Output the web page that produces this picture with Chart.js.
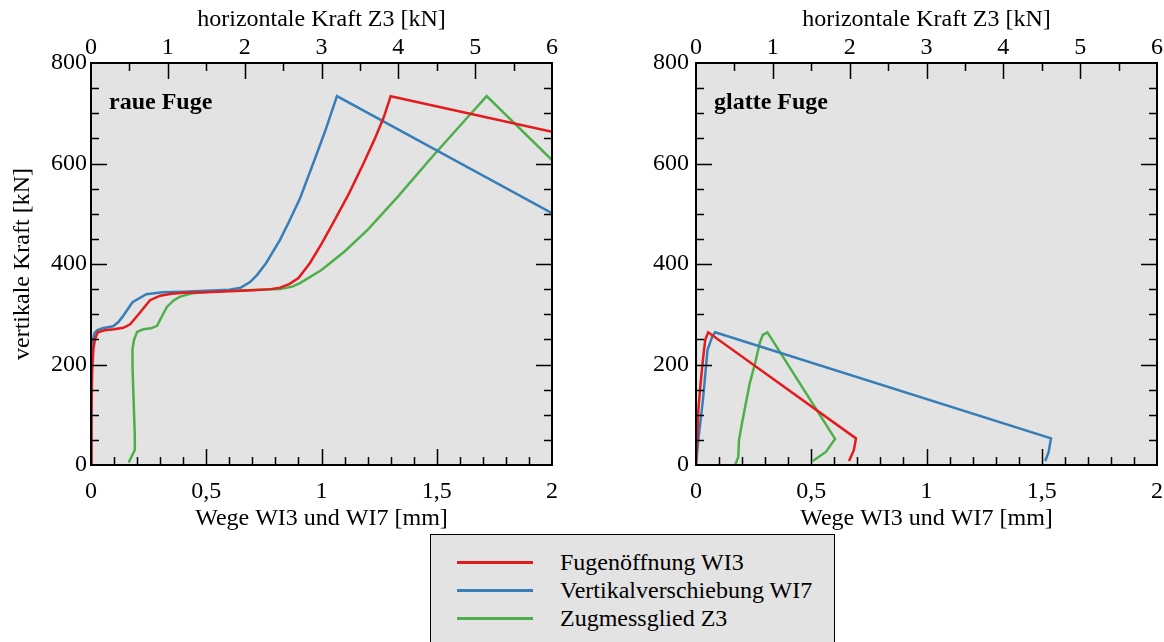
<!DOCTYPE html>
<html><head><meta charset="utf-8">
<script src="https://cdn.jsdelivr.net/npm/chart.js@4"></script>
<style>
body{margin:0;background:#fff;width:1164px;height:642px;overflow:hidden;position:relative;font-family:"Liberation Serif","Times New Roman",serif;}
canvas{position:absolute;top:0;}
#c1{left:0;}
#c2{left:600px;}
#legend{position:absolute;left:430px;top:534px;width:405px;height:120px;background:#e3e3e3;border:1.5px solid #000;box-sizing:border-box;}
.sw{position:absolute;left:26px;width:76px;height:3px;}
.lt{position:absolute;left:129px;font-size:24px;height:28px;line-height:28px;white-space:nowrap;color:#000;}
</style></head>
<body>
<canvas id="c1" width="580" height="540"></canvas>
<canvas id="c2" width="564" height="540"></canvas>
<div id="legend"></div>
<script>
// ---------- data ----------
const seriesNames = ['Fugenöffnung WI3', 'Vertikalverschiebung WI7', 'Zugmessglied Z3'];
const seriesColors = ['#e41a1c', '#377eb8', '#4daf4a'];
const panelLabels = ['raue Fuge', 'glatte Fuge'];
const xTicksMm = [0, 0.5, 1, 1.5, 2];
const xTicksKn = [0, 1, 2, 3, 4, 5, 6];
const yTicksKn = [0, 200, 400, 600, 800];

// raue Fuge
const raueWI3_mm = [0, 0.002, 0.005, 0.01, 0.018, 0.03, 0.06, 0.1, 0.14, 0.17, 0.21, 0.256, 0.30, 0.35, 0.4, 0.5, 0.6, 0.7, 0.78, 0.82, 0.86, 0.9, 0.95, 1.0, 1.06, 1.12, 1.18, 1.23, 1.27, 1.30, 2.0];
const raueWI3_F  = [0, 100, 190, 230, 252, 264, 268, 270, 273, 280, 302, 328, 337, 341, 343, 344, 346, 348, 350, 353, 360, 372, 402, 440, 490, 541, 598, 648, 692, 734, 663];
const raueWI7_mm = [0, 0.002, 0.005, 0.008, 0.015, 0.026, 0.05, 0.096, 0.12, 0.14, 0.18, 0.24, 0.31, 0.4, 0.5, 0.6, 0.65, 0.69, 0.72, 0.76, 0.82, 0.86, 0.907, 0.98, 1.02, 1.067, 2.0];
const raueWI7_F  = [0, 120, 210, 249, 262, 268, 272, 276, 285, 297, 324, 340, 344, 345, 347, 349, 353, 364, 378, 402, 448, 485, 531, 620, 670, 734, 501];
const raueZ3_kN  = [0.49, 0.57, 0.57, 0.55, 0.54, 0.54, 0.56, 0.6, 0.68, 0.78, 0.86, 0.92, 0.99, 1.08, 1.16, 1.33, 1.59, 2.0, 2.46, 2.62, 2.72, 3.0, 3.3, 3.6, 4.0, 4.45, 4.89, 5.15, 6.0];
const raueZ3_F   = [5, 30, 60, 149, 199, 230, 249, 265, 270, 272, 277, 295, 315, 328, 335, 342, 346, 348, 350, 355, 362, 388, 425, 468, 535, 615, 690, 734, 607];

// glatte Fuge
const glattWI3_mm = [0, 0.005, 0.01, 0.02, 0.03, 0.04, 0.053, 0.694, 0.685, 0.664];
const glattWI3_F  = [0, 50, 109, 163, 209, 249, 264, 53, 30, 8];
const glattWI7_mm = [0, 0.01, 0.03, 0.05, 0.07, 0.083, 1.54, 1.53, 1.515];
const glattWI7_F  = [0, 50, 129, 229, 255, 264, 53, 26, 8];
const glattZ3_kN  = [0.51, 0.55, 0.56, 0.6, 0.64, 0.7, 0.77, 0.83, 0.87, 0.93, 1.81, 1.69, 1.52];
const glattZ3_F   = [0, 16, 50, 84, 116, 163, 203, 243, 259, 264, 52, 26, 8];

// ---------- helpers ----------
const FONT = '"Liberation Serif", "Times New Roman", serif';
const tickFont = {family: FONT, size: 24};
const titleFont = {family: FONT, size: 24};
const pts = (xs, ys) => xs.map((x, i) => ({x: x, y: ys[i]}));
const fmt = v => String(v).replace('.', ',');

const framePlugin = {
  id: 'frame',
  beforeDatasetsDraw(chart) {
    const a = chart.chartArea, ctx = chart.ctx;
    ctx.save();
    ctx.fillStyle = '#e3e3e3';
    ctx.fillRect(a.left, a.top, a.right - a.left, a.bottom - a.top);
    ctx.restore();
  },
  afterDatasetsDraw(chart, args, opts) {
    const a = chart.chartArea, ctx = chart.ctx;
    const sx = chart.scales.x, sx2 = chart.scales.x2, sy = chart.scales.y;
    ctx.save();
    ctx.strokeStyle = '#000';
    ctx.lineWidth = 1.5;
    ctx.beginPath();
    for (let i = 1; i < 20; i++) {
      const v = i / 10, px = Math.round(sx.getPixelForValue(v)) + 0.5;
      const len = (i % 5 === 0) ? 16 : 8;
      ctx.moveTo(px, a.bottom); ctx.lineTo(px, a.bottom - len);
    }
    for (let i = 1; i < 12; i++) {
      const v = i / 2, px = Math.round(sx2.getPixelForValue(v)) + 0.5;
      const len = (i % 2 === 0) ? 16 : 8;
      ctx.moveTo(px, a.top); ctx.lineTo(px, a.top + len);
    }
    for (let i = 1; i < 16; i++) {
      const v = i * 50, py = Math.round(sy.getPixelForValue(v)) + 0.5;
      const len = (i % 4 === 0) ? 16 : 8;
      ctx.moveTo(a.left, py); ctx.lineTo(a.left + len, py);
      ctx.moveTo(a.right, py); ctx.lineTo(a.right - len, py);
    }
    ctx.stroke();
    ctx.lineWidth = 2;
    ctx.strokeRect(a.left, a.top, a.right - a.left, a.bottom - a.top);
    if (opts.label) {
      ctx.fillStyle = '#000';
      ctx.font = 'bold 24px ' + FONT;
      ctx.textBaseline = 'middle';
      ctx.textAlign = 'left';
      ctx.fillText(opts.label, a.left + 18, a.top + 40);
    }
    ctx.restore();
  }
};

function buildConfig(data, p) {
  return {
    type: 'line',
    data: {
      datasets: [
        {label: seriesNames[0], data: pts(data[0], data[1]), borderColor: seriesColors[0], xAxisID: 'x', yAxisID: 'y'},
        {label: seriesNames[1], data: pts(data[2], data[3]), borderColor: seriesColors[1], xAxisID: 'x', yAxisID: 'y'},
        {label: seriesNames[2], data: pts(data[4], data[5]), borderColor: seriesColors[2], xAxisID: 'x2', yAxisID: 'y'}
      ]
    },
    options: {
      responsive: false, animation: false, devicePixelRatio: 1,
      layout: {padding: {left: 0, top: 0, right: p.padRight, bottom: 0}},
      elements: {point: {radius: 0, hoverRadius: 0}, line: {tension: 0, borderWidth: 2.5, fill: false}},
      plugins: {legend: {display: false}, tooltip: {enabled: false}, frame: {label: p.label}},
      scales: {
        x: {
          type: 'linear', position: 'bottom', min: 0, max: 2,
          afterFit: s => { s.height = 75; s.paddingLeft = 0; s.paddingRight = 0; },
          afterBuildTicks: s => { s.ticks = xTicksMm.map(v => ({value: v})); },
          grid: {display: false, drawTicks: false}, border: {display: false},
          ticks: {padding: 12, color: '#000', font: tickFont, maxRotation: 0, autoSkip: false, callback: v => fmt(v)},
          title: {display: true, text: 'Wege WI3 und WI7 [mm]', color: '#000', font: titleFont, padding: {top: 0, bottom: 7}}
        },
        x2: {
          type: 'linear', position: 'top', min: 0, max: 6,
          afterFit: s => { s.height = 63; s.paddingLeft = 0; s.paddingRight = 0; },
          afterBuildTicks: s => { s.ticks = xTicksKn.map(v => ({value: v})); },
          grid: {display: false, drawTicks: false}, border: {display: false},
          ticks: {padding: 1, color: '#000', font: tickFont, maxRotation: 0, autoSkip: false},
          title: {display: true, text: 'horizontale Kraft Z3 [kN]', color: '#000', font: titleFont, padding: {top: 5, bottom: 0}}
        },
        y: {
          type: 'linear', position: 'left', min: 0, max: 800,
          afterFit: s => { s.width = p.yWidth; s.paddingTop = 0; s.paddingBottom = 0; },
          afterBuildTicks: s => { s.ticks = yTicksKn.map(v => ({value: v})); },
          grid: {display: false, drawTicks: false}, border: {display: false},
          ticks: {padding: p.yPad, color: '#000', font: tickFont, autoSkip: false},
          title: {display: p.yTitle, text: 'vertikale Kraft [kN]', color: '#000', font: titleFont, padding: {top: 8, bottom: 0}}
        }
      }
    },
    plugins: [framePlugin]
  };
}

new Chart(document.getElementById('c1'), buildConfig(
  [raueWI3_mm, raueWI3_F, raueWI7_mm, raueWI7_F, raueZ3_kN, raueZ3_F],
  {padRight: 28, yWidth: 91, yPad: 4, yTitle: true, label: panelLabels[0]}));
new Chart(document.getElementById('c2'), buildConfig(
  [glattWI3_mm, glattWI3_F, glattWI7_mm, glattWI7_F, glattZ3_kN, glattZ3_F],
  {padRight: 7, yWidth: 96, yPad: 7, yTitle: false, label: panelLabels[1]}));

// legend
const lg = document.getElementById('legend');
seriesNames.forEach((n, i) => {
  const cy = 27 + i * 28;
  const sw = document.createElement('div');
  sw.className = 'sw'; sw.style.top = (cy - 1.5) + 'px'; sw.style.background = seriesColors[i];
  const t = document.createElement('div');
  t.className = 'lt'; t.style.top = (cy - 14) + 'px'; t.textContent = n;
  lg.appendChild(sw); lg.appendChild(t);
});
</script>
</body></html>
